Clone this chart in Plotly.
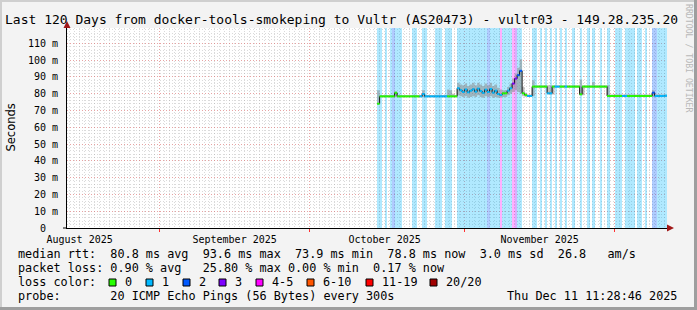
import pandas as pd
import plotly.graph_objects as go

# ---------------- data ----------------
graph_start = "2025-08-13 11:28:46"
graph_end = "2025-12-11 11:28:46"
first_slot = "2025-10-14 12:00:00"
slot_hours = 12

month_starts = ["2025-09-01", "2025-10-01", "2025-11-01", "2025-12-01"]
month_label_dates = ["2025-08-16", "2025-09-16", "2025-10-16", "2025-11-16"]
month_labels = ["August 2025", "September 2025", "October 2025", "November 2025"]

y_ticks = [0, 10, 20, 30, 40, 50, 60, 70, 80, 90, 100, 110]
y_tick_labels = ["0  ", "10 m", "20 m", "30 m", "40 m", "50 m", "60 m",
                 "70 m", "80 m", "90 m", "100 m", "110 m"]
y_max = 119.1

# median round-trip time (ms) per 12 h slot
median_ms = ([74.0] + [78.4] * 6 + [80.5] + [78.4] * 10 + [79.8] + [78.4] * 13
             + [83.2, 82.0, 81.0, 82.5, 80.8, 81.8, 82.6, 81.2, 83.0, 81.5,
                80.5, 82.4, 81.0, 82.8, 80.6, 81.8, 79.8, 79.2, 80.2, 80.2,
                81.8, 83.2, 86.0, 89.0, 91.0, 93.6, 80.2, 79.2, 78.6, 78.6]
             + [84.2] * 6 + [80.2, 80.2] + [84.2] * 11 + [79.6] + [84.2] * 10
             + [78.6] * 18 + [80.6] + [78.6] * 4 + [78.8])

smoke_hi = ([82.0] + [79.0] * 6 + [81.5] + [79.0] * 10 + [82.0] + [79.0] * 9
            + [82.5, 82.0, 80.0, 79.0]
            + [86.5, 85.5, 85.0, 86.0, 84.5, 85.5, 86.5, 85.0, 86.5, 85.5,
               84.5, 86.0, 85.0, 86.5, 84.5, 85.5, 83.5, 82.5]
            + [82.0, 82.0] + [84.0, 86.0, 89.0, 92.0, 95.5, 100.5]
            + [84.0, 80.5, 79.5, 79.5] + [88.0] + [85.0] * 5 + [85.0, 85.0]
            + [85.0] * 11 + [88.5] + [85.0] * 4 + [87.0] + [85.0] * 5
            + [85.0] + [79.5] * 17 + [82.0] + [79.5] * 5)

smoke_lo = ([73.9] + [77.8] * 31
            + [79.0, 78.5, 78.0, 78.5, 77.5, 78.0, 78.5, 78.0, 79.0, 78.0,
               77.5, 78.5, 78.0, 78.5, 77.5, 78.0, 77.5, 77.5]
            + [78.0, 78.0] + [79.0, 80.0, 81.0, 82.0, 81.0, 80.0]
            + [78.5, 78.0, 78.0, 78.0] + [78.5] + [83.6] * 5 + [79.5, 79.5]
            + [79.5] + [83.6] * 10 + [79.0] + [79.0] + [83.6] * 9
            + [78.0] * 18 + [78.0] + [78.0] * 5)

# loss class of the median line per slot (index into loss_labels)
line_loss = ([0] * 17 + [1] * 11 + [0] * 4 + [1] * 18 + [0] * 2 + [1] * 2
             + [3] * 2 + [2] * 2 + [0] * 2 + [1] * 2 + [0] * 6 + [1] * 2
             + [0] + [1] * 2 + [0] * 2 + [1] + [0] * 16 + [0] * 6 + [1] * 2
             + [0] * 10 + [2] + [1] * 5)

# loss class shown as background stripe per slot
bg_loss = ([1, 1, 0, 1, 0, 1, 2, 1, 1, 1, 0, 0, 0, 0, 1, 1, 0, 0, 1, 1,
            0, 0, 0, 1, 1, 1, 0, 1, 1, 1, 0, 0]
           + [1] * 12 + [2, 1, 1, 1, 1, 4, 1, 1, 1, 1, 4, 3, 1, 1, 0, 0, 0, 0]
           + [1, 1, 0, 1, 0, 1, 0, 1, 0, 1, 0, 1, 0, 1, 0, 0, 1, 0, 0, 1,
              0, 0, 1, 0, 1, 0, 0, 1, 0, 0, 1, 0, 0, 1, 1, 1, 0, 1, 1, 1,
              1, 0, 1, 1, 0, 1, 0, 0, 2, 2, 1, 1, 1, 1])

loss_labels = ["0", "1", "2", "3", "4-5", "6-10", "11-19", "20/20"]
loss_colors = ["#26ff00", "#00b8ff", "#0059ff", "#7e00ff", "#ff00ff",
               "#ff5500", "#ff0000", "#a10000"]

rtt_avg, rtt_max, rtt_min, rtt_now, rtt_sd, am_s = 80.8, 93.6, 73.9, 78.8, 3.0, 26.8
loss_avg, loss_max, loss_min, loss_now = 0.90, 25.80, 0.00, 0.17
probe_text = "20 ICMP Echo Pings (56 Bytes) every 300s"
timestamp = "Thu Dec 11 11:28:46 2025"
title_text = "Last 120 Days from docker-tools-smokeping to Vultr (AS20473) - vultr03 - 149.28.235.20"

# ---------------- build ----------------
MONO = "DejaVu Sans Mono"
n = len(median_ms)
slot = pd.Timedelta(hours=slot_hours)
t0 = pd.Timestamp(first_slot)
starts = [t0 + i * slot for i in range(n)]
edges = starts + [starts[-1] + slot]


def rgba(hexc, a):
    h = hexc.lstrip("#")
    r, g, b = int(h[0:2], 16), int(h[2:4], 16), int(h[4:6], 16)
    return f"rgba({r},{g},{b},{a})"


fig = go.Figure()

# loss background stripes
bx, bc = [], []
for i, c in enumerate(bg_loss):
    if c > 0:
        bx.append(starts[i] + slot / 2)
        bc.append(rgba(loss_colors[c], 0.31))
fig.add_trace(go.Bar(x=bx, y=[y_max] * len(bx), base=0,
                     width=slot.total_seconds() * 1000,
                     marker=dict(color=bc, line=dict(width=0)),
                     hoverinfo="skip", showlegend=False))

# smoke band
fig.add_trace(go.Scatter(x=edges, y=smoke_lo + [smoke_lo[-1]], mode="lines",
                         line=dict(width=0, shape="hv"), hoverinfo="skip",
                         showlegend=False))
fig.add_trace(go.Scatter(x=edges, y=smoke_hi + [smoke_hi[-1]], mode="lines",
                         line=dict(width=0, shape="hv"), fill="tonexty",
                         fillcolor="rgba(140,140,140,0.55)", hoverinfo="skip",
                         showlegend=False))

# dark median connector
fig.add_trace(go.Scatter(x=edges, y=median_ms + [median_ms[-1]], mode="lines",
                         line=dict(width=1, color="#111", shape="hv"),
                         hoverinfo="skip", showlegend=False))

# coloured median segments
for c, col in enumerate(loss_colors):
    xs, ys = [], []
    for i in range(n):
        if line_loss[i] == c:
            xs += [starts[i], starts[i] + slot, None]
            ys += [median_ms[i], median_ms[i], None]
    if xs:
        fig.add_trace(go.Scatter(x=xs, y=ys, mode="lines",
                                 line=dict(width=2, color=col),
                                 hoverinfo="skip", showlegend=False))

# dummy trace for label axis
fig.add_trace(go.Scatter(x=month_label_dates, y=[None] * len(month_label_dates),
                         xaxis="x2", mode="lines", hoverinfo="skip",
                         showlegend=False))

L, R, T, B = 67, 667, 28, 228


def px(x):
    return (x - L) / (R - L)


def py(y):
    return (B - y) / (B - T)


def nb(s):
    return s.replace(" ", "\u00a0")


minor_grid = "rgba(150,150,150,0.35)"
major_grid = "rgba(255,60,60,0.35)"
dash = "1px,2px"

fig.update_layout(
    width=697, height=310,
    margin=dict(l=L, r=697 - R, t=T, b=310 - B),
    paper_bgcolor="#f3f3f3", plot_bgcolor="#ffffff",
    showlegend=False, bargap=0, barmode="overlay",
    xaxis=dict(type="date", range=[graph_start, graph_end],
               tickvals=month_starts, showticklabels=False,
               ticks="outside", ticklen=3, tickcolor="#ff3030",
               showgrid=True, gridcolor=major_grid, griddash=dash, gridwidth=1,
               minor=dict(dtick=86400000, tick0="2025-08-01", showgrid=True,
                          gridcolor=minor_grid, griddash=dash, ticks=""),
               showline=True, linecolor="#000", linewidth=1, zeroline=False),
    xaxis2=dict(type="date", range=[graph_start, graph_end], overlaying="x",
                anchor="y", side="bottom", tickvals=month_label_dates,
                ticktext=month_labels, ticks="", showgrid=False,
                showline=False, zeroline=False, ticklabelstandoff=4,
                tickfont=dict(family=MONO, size=10, color="#000")),
    yaxis=dict(range=[0, y_max], tickvals=y_ticks,
               ticktext=[nb(t) for t in y_tick_labels], ticks="",
               showgrid=True, gridcolor=major_grid, griddash=dash,
               minor=dict(dtick=2, showgrid=True, gridcolor=minor_grid,
                          griddash=dash, ticks=""),
               showline=True, linecolor="#000", linewidth=1, zeroline=False,
               ticklabelstandoff=6,
               tickfont=dict(family=MONO, size=10, color="#000")),
)

ann = []
ann.append(dict(text=nb(title_text), x=px(3), y=py(20), xanchor="left",
                yanchor="middle", font=dict(family=MONO, size=13, color="#000")))
ann.append(dict(text="Seconds", x=px(10), y=py(127.5), textangle=-90,
                xanchor="center", yanchor="middle",
                font=dict(family="DejaVu Sans", size=11.5, color="#000")))
ann.append(dict(text=nb("RRDTOOL / TOBI OETIKER"), x=px(689), y=py(58),
                textangle=90, xanchor="center", yanchor="middle",
                font=dict(family=MONO, size=8.2, color="#b8b8b8")))

row1 = (f"median rtt:  {rtt_avg:.1f} ms avg  {rtt_max:.1f} ms max  "
        f"{rtt_min:.1f} ms min  {rtt_now:.1f} ms now  {rtt_sd:.1f} ms sd  "
        f"{am_s:.1f}   am/s")
row2 = (f"packet loss: {loss_avg:.2f} % avg   {loss_max:.2f} % max "
        f"{loss_min:.2f} % min  {loss_now:.2f} % now")
row3 = "loss color:"
row4 = f"probe:       {probe_text}"
rows_y = [254, 268, 282, 296]
for txt, yy in zip([row1, row2, row3, row4], rows_y):
    ann.append(dict(text=nb(txt), x=px(16), y=py(yy), xanchor="left",
                    yanchor="middle", font=dict(family=MONO, size=11.8, color="#000")))
ann.append(dict(text=nb(timestamp), x=px(679), y=py(rows_y[3]), xanchor="right",
                yanchor="middle", font=dict(family=MONO, size=11.8, color="#000")))

shapes = []
sq_x = [109, 146, 183, 219, 256, 307, 366, 430]
for sx, lab, col in zip(sq_x, loss_labels, loss_colors):
    shapes.append(dict(type="rect", xref="paper", yref="paper",
                       x0=px(sx), x1=px(sx + 7), y0=py(286), y1=py(279),
                       fillcolor=col, line=dict(color="#000", width=1)))
    ann.append(dict(text=nb(lab), x=px(sx + 14), y=py(rows_y[2]), xanchor="left",
                    yanchor="middle", font=dict(family=MONO, size=11.8, color="#000")))

for a in ann:
    a.update(xref="paper", yref="paper", showarrow=False)

# axis arrows
arrow_col = "#a01818"
shapes.append(dict(type="path", xref="paper", yref="paper",
                   path=f"M {px(667)} {py(224.5)} L {px(674)} {py(228)} L {px(667)} {py(231.5)} Z",
                   fillcolor=arrow_col, line=dict(width=0)))
shapes.append(dict(type="path", xref="paper", yref="paper",
                   path=f"M {px(63.5)} {py(28)} L {px(67)} {py(21)} L {px(70.5)} {py(28)} Z",
                   fillcolor=arrow_col, line=dict(width=0)))
shapes.append(dict(type="line", xref="paper", yref="paper",
                   x0=px(63), x1=px(67), y0=py(228), y1=py(228),
                   line=dict(color="#000", width=1)))
# 3-D frame
shapes.append(dict(type="rect", xref="paper", yref="paper", x0=px(0), x1=px(697),
                   y0=py(0), y1=py(2), fillcolor="#cfcfcf", line=dict(width=0)))
shapes.append(dict(type="rect", xref="paper", yref="paper", x0=px(0), x1=px(2),
                   y0=py(0), y1=py(310), fillcolor="#cfcfcf", line=dict(width=0)))
shapes.append(dict(type="rect", xref="paper", yref="paper", x0=px(0), x1=px(697),
                   y0=py(307), y1=py(310), fillcolor="#9e9e9e", line=dict(width=0)))
shapes.append(dict(type="rect", xref="paper", yref="paper", x0=px(694), x1=px(697),
                   y0=py(0), y1=py(310), fillcolor="#9e9e9e", line=dict(width=0)))

fig.update_layout(annotations=ann, shapes=shapes)
fig.write_html("out.html", config={"displayModeBar": False})
